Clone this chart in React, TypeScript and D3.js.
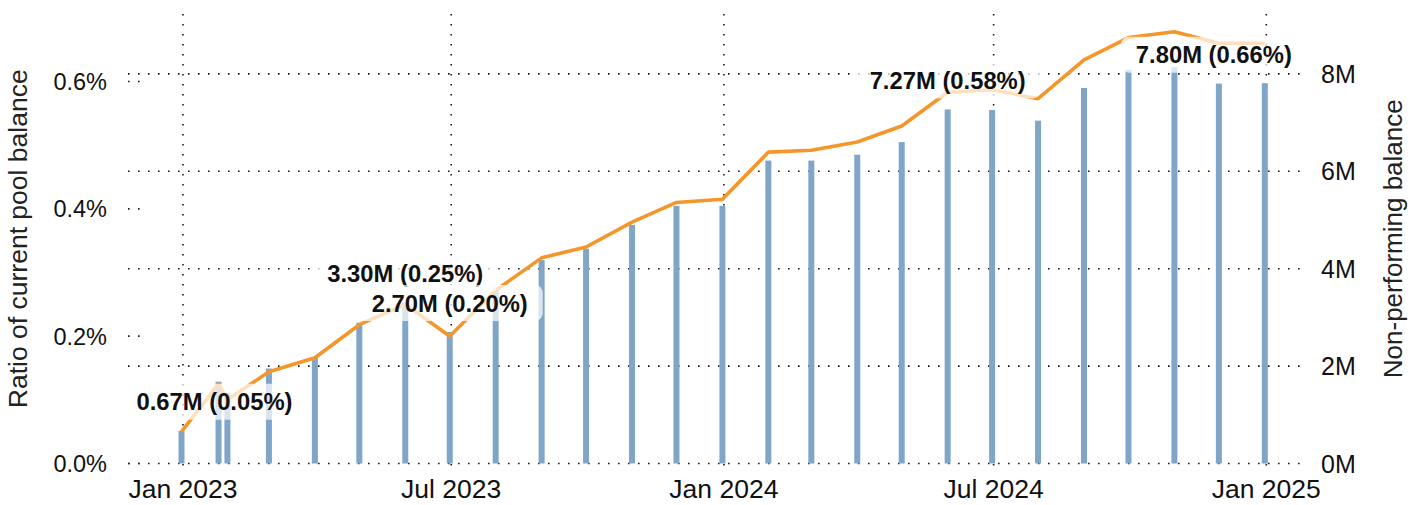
import { useEffect, useRef } from 'react';
import * as d3 from 'd3';

// month-end observations (plus one mid-January reading)
const dates = [
  '2022-12-31', '2023-01-25', '2023-01-31', '2023-02-28', '2023-03-31', '2023-04-30',
  '2023-05-31', '2023-06-30', '2023-07-31', '2023-08-31', '2023-09-30', '2023-10-31',
  '2023-11-30', '2023-12-31', '2024-01-31', '2024-02-29', '2024-03-31', '2024-04-30',
  '2024-05-31', '2024-06-30', '2024-07-31', '2024-08-31', '2024-09-30', '2024-10-31',
  '2024-11-30', '2024-12-31',
];
// non-performing balance, millions
const balances = [
  0.67, 1.68, 1.45, 1.95, 2.17, 2.89, 3.30, 2.70, 3.62, 4.18, 4.41, 4.90, 5.29,
  5.29, 6.22, 6.22, 6.34, 6.60, 7.27, 7.26, 7.04, 7.71, 8.08, 8.14, 7.80, 7.81,
];
// ratio of current pool balance, percent
const ratios = [
  0.05, 0.125, 0.10, 0.144, 0.166, 0.218, 0.25, 0.20, 0.272, 0.323, 0.34, 0.379, 0.41,
  0.415, 0.489, 0.492, 0.505, 0.53, 0.583, 0.587, 0.573, 0.634, 0.669, 0.678, 0.66, 0.66,
];

const labelIdx = [0, 6, 7, 18, 24];
const labelNudgeX = [33, 0, 0, 0, -5];

const leftTicks = [0, 0.2, 0.4, 0.6];
const rightTicks = [0, 2, 4, 6, 8];
const xTicks = ['2023-01-01', '2023-07-01', '2024-01-01', '2024-07-01', '2025-01-01'];

const App = () => {
  const svgRef = useRef(null);

  useEffect(() => {
    const svg = d3.select(svgRef.current);
    svg.selectAll('*').remove();

    const width = 1426;
    const height = 505;
    const margin = { top: 14, right: 136, bottom: 41.5, left: 140 };
    const font = '"Liberation Sans", Arial, Helvetica, sans-serif';
    const parse = d3.timeParse('%Y-%m-%d');

    const data = dates.map((d, i) => ({ date: parse(d), bal: balances[i], ratio: ratios[i] }));

    const x = d3.scaleTime()
      .domain([parse('2022-12-03'), parse('2025-01-17')])
      .range([margin.left, width - margin.right]);
    const yL = d3.scaleLinear().domain([0, 0.706]).range([height - margin.bottom, margin.top]);
    const yR = d3.scaleLinear().domain([0, 9.23]).range([height - margin.bottom, margin.top]);

    const dotted = sel => sel
      .attr('stroke', '#1a1a1a')
      .attr('stroke-width', 1.6)
      .attr('stroke-dasharray', '1.6 8.4');

    // horizontal grid from the right axis
    svg.append('g').selectAll('line')
      .data(rightTicks)
      .join('line')
      .attr('x1', margin.left - 12)
      .attr('x2', width - margin.right + 12)
      .attr('y1', d => yR(d))
      .attr('y2', d => yR(d))
      .call(dotted);

    // short ticks for the left axis
    svg.append('g').selectAll('line')
      .data(leftTicks)
      .join('line')
      .attr('x1', margin.left - 12)
      .attr('x2', margin.left)
      .attr('y1', d => yL(d))
      .attr('y2', d => yL(d))
      .call(dotted);

    // vertical grid
    svg.append('g').selectAll('line')
      .data(xTicks.map(parse))
      .join('line')
      .attr('x1', d => x(d))
      .attr('x2', d => x(d))
      .attr('y1', margin.top)
      .attr('y2', height - margin.bottom + 3)
      .call(dotted);

    // bars
    svg.append('g').selectAll('rect')
      .data(data)
      .join('rect')
      .attr('x', d => x(d.date) - 3)
      .attr('width', 6)
      .attr('y', d => yR(d.bal))
      .attr('height', d => yR(0) - yR(d.bal))
      .attr('fill', '#7fa6c9');

    // ratio line
    const line = d3.line()
      .x(d => x(d.date))
      .y(d => yL(d.ratio));

    svg.append('path')
      .datum(data)
      .attr('d', line)
      .attr('fill', 'none')
      .attr('stroke', '#f5962b')
      .attr('stroke-width', 3.6)
      .attr('stroke-linejoin', 'round');

    // annotations with translucent boxes
    const lg = svg.append('g');
    labelIdx.forEach((idx, k) => {
      const d = data[idx];
      const cx = x(d.date) + labelNudgeX[k];
      const cy = yR(d.bal) - 29;
      const g = lg.append('g');
      const t = g.append('text')
        .attr('x', cx)
        .attr('y', cy)
        .attr('dy', '0.36em')
        .attr('text-anchor', 'middle')
        .attr('font-family', font)
        .attr('font-weight', 'bold')
        .attr('font-size', 23.8)
        .attr('fill', '#111')
        .text(`${d.bal.toFixed(2)}M (${d.ratio.toFixed(2)}%)`);
      const bb = t.node().getBBox();
      g.insert('rect', 'text')
        .attr('x', bb.x - 15)
        .attr('y', cy - 18)
        .attr('width', bb.width + 30)
        .attr('height', 36)
        .attr('rx', 8)
        .attr('fill', '#fff')
        .attr('fill-opacity', 0.7);
    });

    // tick labels
    svg.append('g').selectAll('text')
      .data(leftTicks)
      .join('text')
      .attr('x', 107)
      .attr('y', d => yL(d))
      .attr('dy', '0.36em')
      .attr('text-anchor', 'end')
      .attr('font-family', font)
      .attr('font-size', 23.5)
      .attr('fill', '#111')
      .text(d => `${d.toFixed(1)}%`);

    svg.append('g').selectAll('text')
      .data(rightTicks)
      .join('text')
      .attr('x', 1321)
      .attr('y', d => yR(d))
      .attr('dy', '0.36em')
      .attr('text-anchor', 'start')
      .attr('font-family', font)
      .attr('font-size', 25)
      .attr('fill', '#111')
      .text(d => `${d}M`);

    svg.append('g').selectAll('text')
      .data(xTicks.map(parse))
      .join('text')
      .attr('x', d => x(d))
      .attr('y', 498)
      .attr('text-anchor', 'middle')
      .attr('font-family', font)
      .attr('font-size', 26.5)
      .attr('fill', '#111')
      .text(d => d3.timeFormat('%b %Y')(d));

    // axis titles
    svg.append('text')
      .attr('transform', `translate(27, ${(margin.top + height - margin.bottom) / 2}) rotate(-90)`)
      .attr('text-anchor', 'middle')
      .attr('font-family', font)
      .attr('font-size', 26.5)
      .attr('fill', '#222')
      .text('Ratio of current pool balance');

    svg.append('text')
      .attr('transform', `translate(1402, ${(margin.top + height - margin.bottom) / 2}) rotate(-90)`)
      .attr('text-anchor', 'middle')
      .attr('font-family', font)
      .attr('font-size', 26)
      .attr('fill', '#222')
      .text('Non-performing balance');
  }, []);

  return (
    <div className="chart-container">
      <svg
        ref={svgRef}
        width={1426}
        height={505}
        style={{ position: 'absolute', left: 0, top: 0, background: '#fff' }}
      ></svg>
    </div>
  );
};

export default App;
